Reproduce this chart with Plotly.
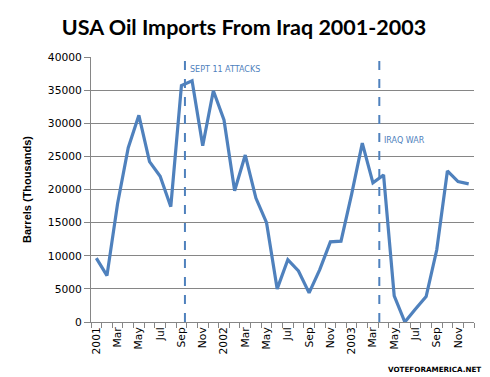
import plotly.graph_objects as go

months = ["Jan", "Feb", "Mar", "Apr", "May", "Jun", "Jul", "Aug", "Sep", "Oct", "Nov", "Dec"]
years = ["2001", "2002", "2003"]
labels = [(y if m == "Jan" else m) for y in years for m in months]

imports = [9650, 7000, 17900, 26300, 31200, 24200, 22000, 17400, 35700, 36400, 26600, 34900,
           30500, 19800, 25200, 18700, 15000, 5000, 9400, 7700, 4400, 7900, 12100, 12200,
           19300, 27000, 21000, 22200, 3950, 0, 1950, 3850, 10900, 22800, 21200, 20850]

event_names = ["SEPT 11 ATTACKS", "IRAQ WAR"]
event_pos = [8.33, 26.6]
event_label_y = [38100, 27400]

blue = "#4F81BD"
grid = "#868686"

x = list(range(len(imports)))

# the page body has an 8px margin; shrink the figure so it lines up with the window
OFF = 8
W, H = 490 - OFF, 377 - OFF

fig = go.Figure()
fig.add_trace(go.Scatter(x=x, y=imports, mode="lines",
                         line=dict(color=blue, width=3.2), hoverinfo="skip"))

for name, pos, ly in zip(event_names, event_pos, event_label_y):
    fig.add_shape(type="line", xref="x", yref="paper", x0=pos, x1=pos, y0=0, y1=1,
                  line=dict(color=blue, width=2, dash="dash"))
    fig.add_annotation(x=pos, y=ly, xref="x", yref="y", text=name, showarrow=False,
                       xanchor="left", xshift=3,
                       font=dict(family="DejaVu Sans", size=8, color=blue))

fig.add_annotation(x=1, y=0, xref="paper", yref="paper", yshift=-47, xshift=9,
                   text="<b>VOTEFORAMERICA.NET</b>", showarrow=False,
                   xanchor="right", yanchor="middle",
                   font=dict(family="DejaVu Sans", size=7.2, color="black"))

fig.update_layout(
    width=W, height=H,
    margin=dict(l=90.5 - OFF, r=15.5, t=57 - OFF, b=55, autoexpand=False),
    paper_bgcolor="white", plot_bgcolor="white",
    showlegend=False,
    title=dict(text="<b>USA Oil Imports From Iraq 2001-2003</b>", x=(244 - OFF) / W, xanchor="center",
               y=1 - (27 - OFF) / H, yanchor="middle",
               font=dict(family="Lato", size=21.5, color="black")),
    xaxis=dict(range=[-0.5, len(imports) - 0.5], tickmode="array",
               tickvals=x[::2], ticktext=labels[::2], tickangle=-90,
               ticks="", showgrid=False, zeroline=False,
               showline=True, linecolor=grid, linewidth=1,
               tickfont=dict(family="DejaVu Sans", size=10.7, color="black"),
               minor=dict(tickmode="linear", tick0=-0.5, dtick=1, ticks="outside",
                          ticklen=5, tickcolor=grid, tickwidth=1, showgrid=False)),
    yaxis=dict(range=[0, 40000], dtick=5000, tickformat="d", showgrid=True, gridcolor=grid, gridwidth=1,
               zeroline=False, showline=True, linecolor=grid, linewidth=1,
               ticks="outside", ticklen=6, tickcolor=grid,
               tickfont=dict(family="DejaVu Sans", size=10.7, color="black"),
               title=dict(text="<b>Barrels (Thousands)</b>", standoff=14,
                          font=dict(family="Liberation Sans", size=11, color="black"))),
)

fig.write_html("out.html")
